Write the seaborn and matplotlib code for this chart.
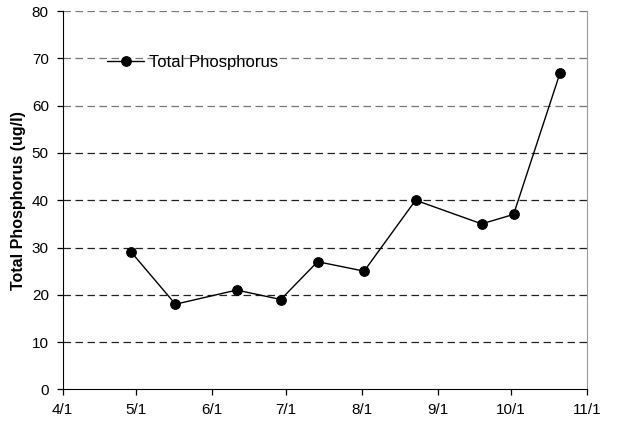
import pandas as pd
import matplotlib
matplotlib.use("Agg")
import matplotlib.pyplot as plt
import matplotlib.dates as mdates
import matplotlib.ticker as mticker
import seaborn as sns

# sample dates and Total Phosphorus (ug/l) values
dates = ["2006-04-29", "2006-05-17", "2006-06-11", "2006-06-29", "2006-07-14",
         "2006-08-02", "2006-08-23", "2006-09-19", "2006-10-02", "2006-10-21"]
phosphorus = [29, 18, 21, 19, 27, 25, 40, 35, 37, 67]
month_ticks = ["2006-04-01", "2006-05-01", "2006-06-01", "2006-07-01",
               "2006-08-01", "2006-09-01", "2006-10-01", "2006-11-01"]

df = pd.DataFrame({"date": pd.to_datetime(dates), "tp": phosphorus})

sns.set_style("ticks")
plt.rcParams["font.family"] = ["Liberation Sans", "DejaVu Sans"]
plt.rcParams["text.color"] = "black"
plt.rcParams["axes.labelcolor"] = "black"
plt.rcParams["xtick.color"] = "black"
plt.rcParams["ytick.color"] = "black"

fig = plt.figure(figsize=(6.18, 4.29), dpi=100)
ax = fig.add_axes([0.1015, 0.0925, 0.8485, 0.8815])

# dashed horizontal grid
for yv in range(10, 81, 10):
    ax.axhline(yv, color="#222222" if yv < 60 else "#777777", lw=0.9,
               dashes=(6.0, 3.6), zorder=0)

sns.lineplot(data=df, x="date", y="tp", ax=ax, color="black", lw=1.0,
             marker="o", markersize=7, markeredgecolor="black",
             label="Total Phosphorus")

ticks = pd.to_datetime(month_ticks)
ax.set_xlim(ticks[0], ticks[-1])
ax.set_xticks(ticks)
ax.xaxis.set_major_formatter(
    mticker.FuncFormatter(lambda v, p: f"{mdates.num2date(v).month}/{mdates.num2date(v).day}"))
ax.set_ylim(0, 80)
ax.set_yticks(range(0, 81, 10))

ax.set_xlabel("")
ax.set_ylabel("Total Phosphorus (ug/l)", fontsize=11.5, fontweight="bold", labelpad=4)
ax.tick_params(axis="both", labelsize=11, length=4, width=0.9, pad=6)

ax.spines["top"].set_visible(False)
ax.spines["right"].set_color("#999999")
ax.spines["left"].set_color("black")
ax.spines["bottom"].set_color("black")

ax.legend(loc="center left", bbox_to_anchor=(0.085, 0.865), frameon=False,
          fontsize=12, handlelength=2.2, handletextpad=0.3, borderpad=0,
          borderaxespad=0)

fig.savefig("out.png", dpi=100)
